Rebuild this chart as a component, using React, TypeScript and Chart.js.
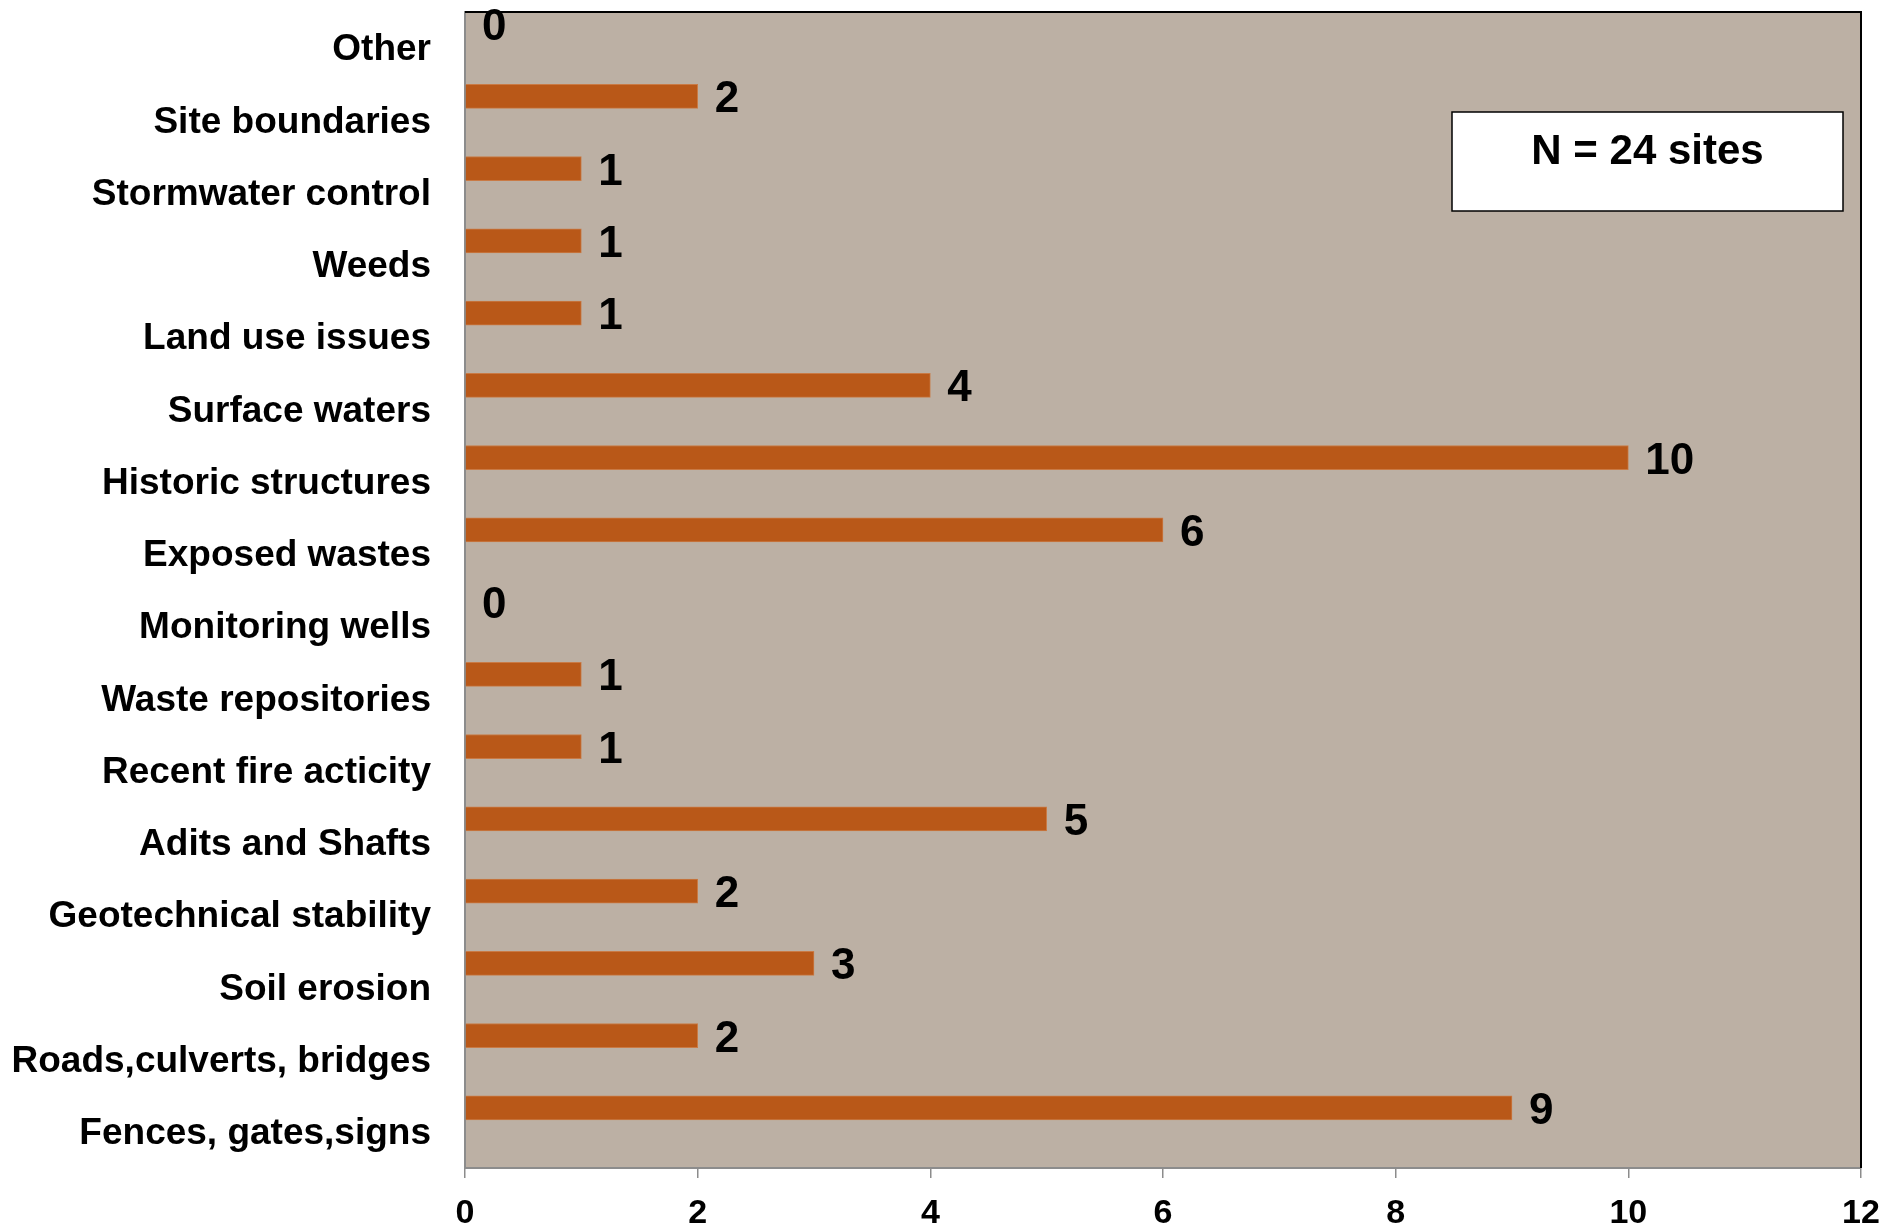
import React, { useEffect, useRef } from "react";
import { Chart, registerables } from "chart.js";

Chart.register(...registerables);

const categories = [
  "Other",
  "Site boundaries",
  "Stormwater control",
  "Weeds",
  "Land use issues",
  "Surface waters",
  "Historic structures",
  "Exposed wastes",
  "Monitoring wells",
  "Waste repositories",
  "Recent fire acticity",
  "Adits and Shafts",
  "Geotechnical stability",
  "Soil erosion",
  "Roads,culverts, bridges",
  "Fences, gates,signs",
];

const siteCounts = [0, 2, 1, 1, 1, 4, 10, 6, 0, 1, 1, 5, 2, 3, 2, 9];

const xTicks = [0, 2, 4, 6, 8, 10, 12];

const noteText = "N = 24 sites";

const FONT = "'Liberation Sans', Arial, sans-serif";

const plotBackground = {
  id: "plotBackground",
  beforeDraw(chart: any) {
    const { ctx, chartArea: a } = chart;
    ctx.save();
    ctx.fillStyle = "#BCB0A4";
    ctx.fillRect(a.left, a.top, a.right - a.left, a.bottom - a.top);
    ctx.restore();
  },
  afterDraw(chart: any) {
    const { ctx, chartArea: a } = chart;
    ctx.save();
    ctx.strokeStyle = "#000000";
    ctx.lineWidth = 2;
    ctx.beginPath();
    ctx.moveTo(a.left, a.top);
    ctx.lineTo(a.right, a.top);
    ctx.lineTo(a.right, a.bottom);
    ctx.stroke();

    // note box in the upper right of the plot
    const bx = 1452, by = 112, bw = 391, bh = 99;
    ctx.fillStyle = "#FFFFFF";
    ctx.fillRect(bx, by, bw, bh);
    ctx.lineWidth = 1.5;
    ctx.strokeRect(bx, by, bw, bh);
    ctx.fillStyle = "#000000";
    ctx.font = `bold 42px ${FONT}`;
    ctx.textAlign = "center";
    ctx.textBaseline = "middle";
    ctx.fillText(noteText, bx + bw / 2, 152);
    ctx.restore();
  },
};

const valueLabels = {
  id: "valueLabels",
  afterDatasetsDraw(chart: any) {
    const { ctx } = chart;
    const meta = chart.getDatasetMeta(0);
    ctx.save();
    ctx.fillStyle = "#000000";
    ctx.font = `bold 44px ${FONT}`;
    ctx.textAlign = "left";
    ctx.textBaseline = "middle";
    meta.data.forEach((el: any, i: number) => {
      ctx.fillText(String(siteCounts[i]), el.x + 17, el.y + 4);
    });
    ctx.restore();
  },
};

export default function App() {
  const canvasRef = useRef<HTMLCanvasElement | null>(null);

  useEffect(() => {
    document.body.style.margin = "0";
    const canvas = canvasRef.current;
    if (!canvas) return;
    const chart = new Chart(canvas, {
      type: "bar",
      data: {
        labels: categories,
        datasets: [
          {
            label: "Sites",
            data: siteCounts,
            backgroundColor: "#B95818",
            borderColor: "#C97A45",
            borderWidth: 1,
            categoryPercentage: 1,
            barPercentage: 1,
          },
          // two empty series keep the bar in the upper third of each band
          { label: "", data: [], categoryPercentage: 1, barPercentage: 1 },
          { label: "", data: [], categoryPercentage: 1, barPercentage: 1 },
        ],
      },
      options: {
        indexAxis: "y",
        animation: false,
        responsive: false,
        maintainAspectRatio: false,
        layout: { padding: { top: 12, right: 26, left: 0, bottom: 0 } },
        plugins: {
          legend: { display: false },
          tooltip: { enabled: false },
        },
        scales: {
          x: {
            min: 0,
            max: 12,
            afterBuildTicks(scale: any) {
              scale.ticks = xTicks.map((v) => ({ value: v }));
            },
            afterFit(scale: any) {
              scale.height = 61;
              scale.paddingLeft = 0;
              scale.paddingRight = 0;
            },
            grid: {
              drawOnChartArea: false,
              drawTicks: true,
              tickLength: 10,
              color: "#8C8C8C",
              lineWidth: 1.5,
            },
            border: { display: true, color: "#8C8C8C", width: 2 },
            ticks: {
              color: "#000000",
              font: { family: FONT, size: 34, weight: "bold" },
              padding: 15,
              maxRotation: 0,
            },
          },
          y: {
            afterFit(scale: any) {
              scale.width = 465;
              scale.paddingTop = 0;
              scale.paddingBottom = 0;
            },
            grid: { display: false, drawTicks: false },
            border: { display: true, color: "#8C8C8C", width: 2 },
            ticks: {
              color: "#000000",
              font: { family: FONT, size: 37, weight: "bold" },
              padding: 34,
              labelOffset: 2,
              autoSkip: false,
            },
          },
        },
      },
      plugins: [plotBackground, valueLabels],
    });
    return () => chart.destroy();
  }, []);

  return (
    <div style={{ width: 1887, height: 1229 }}>
      <canvas ref={canvasRef} width={1887} height={1229} style={{ display: "block" }} />
    </div>
  );
}
